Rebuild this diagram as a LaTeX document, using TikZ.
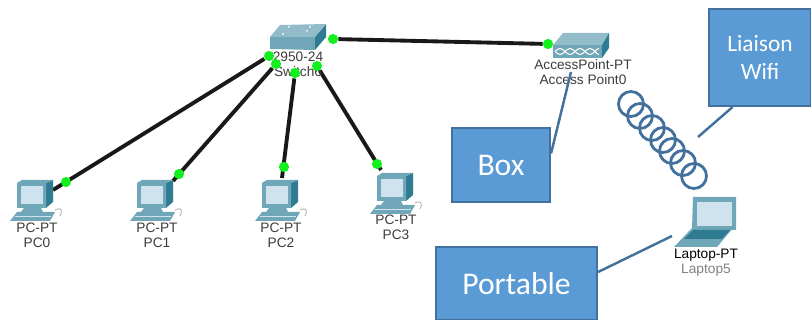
\documentclass[tikz,border=0pt]{standalone}
\usepackage{fontspec}
\setmainfont{Liberation Sans}
\newfontfamily\calloutfont{Carlito}
\usetikzlibrary{backgrounds}
\definecolor{calloutfill}{HTML}{5B9BD5}
\definecolor{calloutline}{HTML}{41719C}
\definecolor{devfront}{HTML}{6FA6B8}
\definecolor{devdark}{HTML}{2F7C92}
\definecolor{devlight}{HTML}{CFE3EE}
\definecolor{labelgray}{HTML}{3C3C3C}
\definecolor{portgreen}{HTML}{12F01E}
\tikzset{
    link/.style={line width=2.2pt,black!90},
    port/.style={circle,fill=portgreen,inner sep=0pt,minimum size=5.8pt},
    devlabel/.style={align=center,text=labelgray,font=\fontsize{7.8}{8.5}\selectfont,inner sep=0pt},
    callout/.style={draw=calloutline,line width=1.2pt,fill=calloutfill,text=white,align=center,inner sep=0pt},
    calloutlink/.style={draw=calloutline,line width=1.4pt},
    coil/.style={draw=calloutline,line width=1.6pt},
    pc/.pic={
        \fill[devdark] (29,3) -- (36,0) -- (36,22) -- (29,28) -- cycle;
        \fill[devfront] (0,3) -- (5,0) -- (36,0) -- (29,3) -- (29,28) -- (0,28) -- cycle;
        \fill[devlight] (4,6) rectangle (26,24);
        \fill[devfront] (7,28) -- (24,28) -- (26,32) -- (4,32) -- cycle;
        \fill[devfront] (-7,41) -- (33,41) -- (38,32) -- (0,32) -- cycle;
        \draw[devlight,line width=0.4pt] (-2,36) -- (34,36);
        \draw[gray!60,line width=0.5pt] (38,30) .. controls (44,27) and (46,30) .. (43,36);
    },
    laptop/.pic={
        \fill[devfront] (19,0) -- (62,0) -- (62,33) -- (18,33) -- cycle;
        \fill[devlight] (23,5) rectangle (58,29);
        \fill[devfront] (18,31) -- (59,31) -- (43,50) -- (0,50) -- cycle;
        \fill[devdark] (19,33) -- (56,33) -- (48,42) -- (10,42) -- cycle;
    }
}

\begin{document}
\begin{tikzpicture}[x=0.02cm,y=-0.02cm]
    \useasboundingbox (0,0) rectangle (811,320);

    % PCs
    \pic at (17,180) {pc};
    \pic at (137,180) {pc};
    \pic at (262,180) {pc};
    \pic at (377,173) {pc};
    \node[devlabel] (pc0) at (37,235.5) {PC-PT\\PC0};
    \node[devlabel] (pc1) at (157,235.5) {PC-PT\\PC1};
    \node[devlabel] (pc2) at (281,235.5) {PC-PT\\PC2};
    \node[devlabel] (pc3) at (396,227.5) {PC-PT\\PC3};

    % switch
    \node[devlabel] (switch) at (298,64) {2950-24\\Switch6};
    \fill[devfront] (270,37) -- (315,37) -- (315,50) -- (270,49) -- cycle;
    \fill[devdark] (315,37) -- (326,24) -- (326,37) -- (315,50) -- cycle;
    \fill[devfront!75!white] (270,37) -- (280,25) -- (326,24) -- (315,37) -- cycle;
    \fill[white] (289,27) circle (1) (310,27) circle (1) (283,34) circle (1) (307,31) circle (1);

    % access point
    \node[devlabel] (ap) at (583,72.5) {AccessPoint-PT\\Access Point0};
    \fill[devfront!75!white] (553,45) -- (563,33) -- (609,33) -- (602,45) -- cycle;
    \fill[devdark] (602,45) -- (609,33) -- (609,48) -- (602,58) -- cycle;
    \fill[devfront] (553,45) rectangle (602,58);
    \draw[white,line width=0.6pt] (555,51.5) sin (560,48.5) cos (565,51.5) sin (570,54.5) cos (575,51.5) sin (580,48.5) cos (585,51.5) sin (590,54.5) cos (595,51.5) sin (599,48.5);
    \draw[white,line width=0.6pt] (555,51.5) sin (560,54.5) cos (565,51.5) sin (570,48.5) cos (575,51.5) sin (580,54.5) cos (585,51.5) sin (590,48.5) cos (595,51.5) sin (599,54.5);

    % laptop
    \pic at (674,197) {laptop};
    \node[devlabel,text=black] (laptop) at (706,255) {Laptop-PT};
    \node[devlabel,text=gray] (laptopname) at (706,270) {Laptop5};

    % ports
    \node[port] (pc0port) at (66,182) {};
    \node[port] (pc1port) at (179,174) {};
    \node[port] (pc2port) at (284,167) {};
    \node[port] (pc3port) at (377,164) {};
    \node[port] (sw0port) at (269,56) {};
    \node[port] (sw1port) at (276,64) {};
    \node[port] (sw2port) at (295,73) {};
    \node[port] (sw3port) at (317,66) {};
    \node[port] (swapport) at (333,39) {};
    \node[port] (apport) at (548,44) {};
    \coordinate (pc0in) at (53,190);
    \coordinate (pc1in) at (173,181);
    \coordinate (pc2in) at (282,178);
    \coordinate (pc3in) at (381,170);

    \begin{scope}[on background layer]
        \draw[link] (pc0in) -- (sw0port);
        \draw[link] (pc1in) -- (sw1port);
        \draw[link] (pc2in) -- (sw2port);
        \draw[link] (pc3in) -- (sw3port);
        \draw[link] (swapport) -- (apport);
    \end{scope}

    % wifi coil
    \foreach \cx/\cy in {631/104,640/116,652/128,663/140,672/151,683/163,694/176}
        \draw[coil] (\cx,\cy) circle (12.5);

    % callouts
    \node[callout,minimum width=1.96cm,minimum height=1.48cm,font=\calloutfont\fontsize{18}{20}\selectfont] (box) at (501,165) {Box};
    \node[callout,minimum width=3.22cm,minimum height=1.46cm,font=\calloutfont\fontsize{18}{20}\selectfont] (portable) at (516.5,283.5) {Portable};
    \node[callout,minimum width=2.04cm,minimum height=1.94cm,font=\calloutfont\fontsize{13.3}{16}\selectfont] (wifi) at (760,57.5) {Liaison\\Wifi};
    \coordinate (boxtip) at (571,72);
    \coordinate (portabletip) at (672,236);
    \coordinate (wifitip) at (698,137);
    \draw[calloutlink] (box.13) -- (boxtip);
    \draw[calloutlink] (portable.8) -- (portabletip);
    \draw[calloutlink] (wifi.241) -- (wifitip);
\end{tikzpicture}
\end{document}
